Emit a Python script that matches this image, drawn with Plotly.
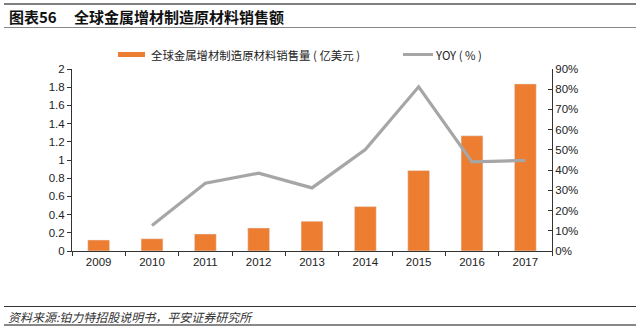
import plotly.graph_objects as go

years = ["2009", "2010", "2011", "2012", "2013", "2014", "2015", "2016", "2017"]
sales = [0.121, 0.135, 0.187, 0.253, 0.327, 0.488, 0.884, 1.266, 1.836]
yoy = [None, 12.6, 33.5, 38.5, 31.2, 50.2, 81.2, 44.1, 44.8]
left_ticks = [0, 0.2, 0.4, 0.6, 0.8, 1, 1.2, 1.4, 1.6, 1.8, 2]
left_labels = ["0", "0.2", "0.4", "0.6", "0.8", "1", "1.2", "1.4", "1.6", "1.8", "2"]
right_ticks = [0, 10, 20, 30, 40, 50, 60, 70, 80, 90]
right_labels = [f"{v}%" for v in right_ticks]

FONT = "Liberation Sans, Noto Sans CJK SC, sans-serif"
CJK = "Noto Sans CJK SC, sans-serif"

W, H = 640, 329
L, R, T, B = 72, 552, 69, 251  # plot area in px

def px(x):
    return (x - L) / (R - L)

def py(y):
    return (B - y) / (B - T)

fig = go.Figure()
fig.add_trace(go.Bar(x=years, y=sales, marker_color="#ED7D31", width=0.41,
                     name="全球金属增材制造原材料销售量 ( 亿美元 )", yaxis="y"))
fig.add_trace(go.Scatter(x=years, y=yoy, mode="lines", line=dict(color="#A6A6A6", width=3.2),
                         name="YOY ( % )", yaxis="y2", connectgaps=False))

fig.update_layout(
    width=W, height=H,
    margin=dict(l=L, r=W - R, t=T, b=H - B),
    paper_bgcolor="white", plot_bgcolor="white",
    showlegend=False,
    font=dict(family=FONT, size=11, color="#222"),
    xaxis=dict(type="category", showline=True, linecolor="#333", linewidth=1,
               ticks="outside", tickson="boundaries", ticklen=4, tickcolor="#333",
               showgrid=False, tickfont=dict(size=11.5, color="#222")),
    yaxis=dict(range=[0, 2], tickvals=left_ticks, ticktext=left_labels,
               showline=True, linecolor="#333", linewidth=1, ticks="outside",
               ticklen=4, tickcolor="#333", showgrid=False, zeroline=False,
               tickfont=dict(size=11.5, color="#222")),
    yaxis2=dict(range=[0, 90], tickvals=right_ticks, ticktext=right_labels,
                overlaying="y", side="right", showline=True, linecolor="#333",
                linewidth=1, ticks="inside", ticklen=4, tickcolor="#333",
                showgrid=False, zeroline=False, tickfont=dict(size=11.5, color="#222")),
    bargap=0.5,
)

shapes = []
# title lines
shapes.append(dict(type="line", xref="paper", yref="paper", x0=px(4), x1=px(636),
                   y0=py(4), y1=py(4), line=dict(color="#555", width=1.6)))
shapes.append(dict(type="line", xref="paper", yref="paper", x0=px(4), x1=px(636),
                   y0=py(27.5), y1=py(27.5), line=dict(color="#888", width=1.2)))
# footer lines
shapes.append(dict(type="line", xref="paper", yref="paper", x0=px(4), x1=px(636),
                   y0=py(306.5), y1=py(306.5), line=dict(color="#333", width=1)))
shapes.append(dict(type="line", xref="paper", yref="paper", x0=px(4), x1=px(636),
                   y0=py(325), y1=py(325), line=dict(color="#888", width=2)))
# legend swatches
shapes.append(dict(type="rect", xref="paper", yref="paper", x0=px(118), x1=px(145),
                   y0=py(57), y1=py(52), fillcolor="#ED7D31", line=dict(width=0)))
shapes.append(dict(type="line", xref="paper", yref="paper", x0=px(403), x1=px(433),
                   y0=py(54.5), y1=py(54.5), line=dict(color="#A6A6A6", width=3)))
fig.update_layout(shapes=shapes)

ann = []
ann.append(dict(xref="paper", yref="paper", x=px(7), y=py(16.5), xanchor="left", yanchor="middle",
                text="<b>图表56</b>", showarrow=False, font=dict(family=CJK, size=15, color="#111")))
ann.append(dict(xref="paper", yref="paper", x=px(72), y=py(16.5), xanchor="left", yanchor="middle",
                text="<b>全球金属增材制造原材料销售额</b>", showarrow=False,
                font=dict(family=CJK, size=15, color="#111")))
ann.append(dict(xref="paper", yref="paper", x=px(149), y=py(54.5), xanchor="left", yanchor="middle",
                text="全球金属增材制造原材料销售量 ( 亿美元 )", showarrow=False,
                font=dict(family=CJK, size=11.4, color="#222")))
ann.append(dict(xref="paper", yref="paper", x=px(433), y=py(54.5), xanchor="left", yanchor="middle",
                text="YOY ( % )", showarrow=False, font=dict(family=CJK, size=11.4, color="#222")))
ann.append(dict(xref="paper", yref="paper", x=px(6), y=py(316), xanchor="left", yanchor="middle",
                text="<i>资料来源:铂力特招股说明书，平安证券研究所</i>", showarrow=False,
                font=dict(family=CJK, size=12, color="#333")))
fig.update_layout(annotations=ann)

fig.write_html("out.html")
